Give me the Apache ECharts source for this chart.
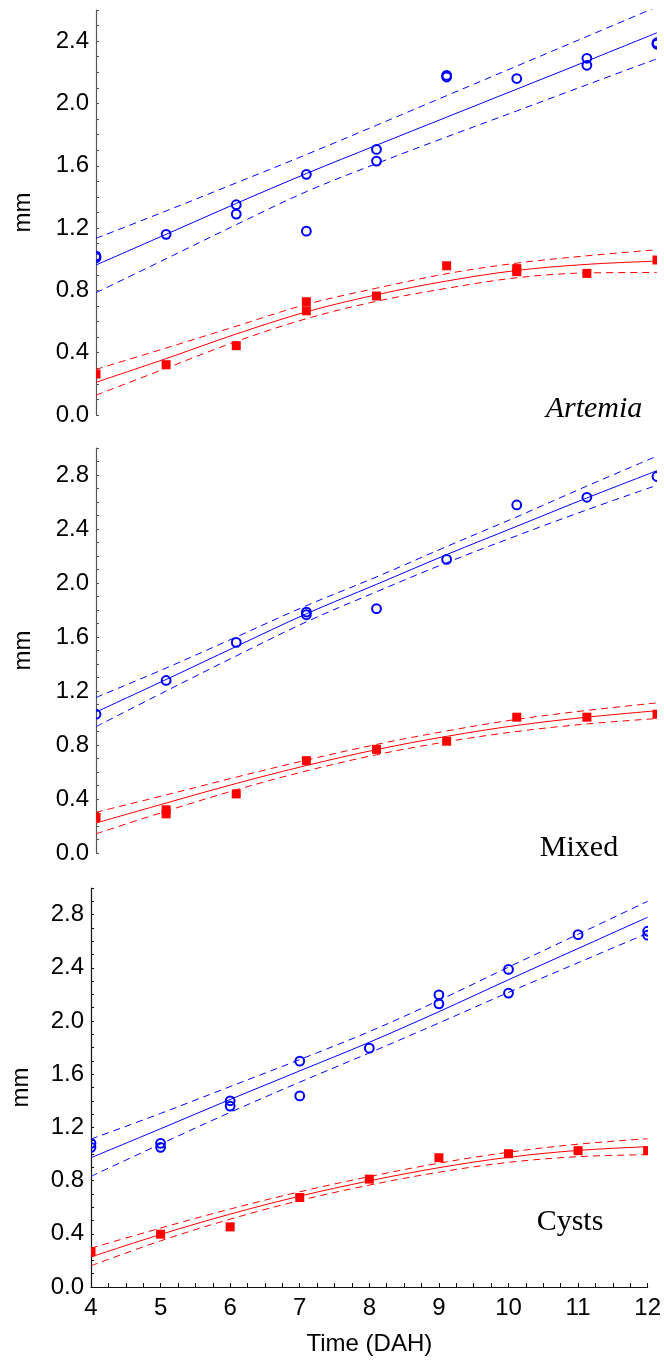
<!DOCTYPE html>
<html>
<head>
<meta charset="utf-8">
<script src="https://cdn.jsdelivr.net/npm/echarts@6/dist/echarts.min.js"></script>
<style>
  html, body { margin: 0; padding: 0; background: #fff; }
  #chart { width: 664px; height: 1361px; }
</style>
</head>
<body>
<div id="chart"></div>
<script>
// Sampling days (days after hatching)
const days = [4, 5, 6, 7, 8, 9, 10, 11, 12];

// Replicate measurements per day (mm): open circles = series A, filled squares = series B
const artemiaA = [[1.02, 1.01], [1.16], [1.35, 1.29], [1.545, 1.18], [1.705, 1.63], [2.18, 2.17], [2.16], [2.29, 2.245], [2.39, 2.38]];
const artemiaB = [[0.263], [0.323], [0.445], [0.727, 0.669], [0.764], [0.958], [0.94, 0.92], [0.909], [0.995]];
const mixedA = [[1.028], [1.278], [1.56], [1.785, 1.765], [1.81], [2.175], [2.578], [2.635], [2.789]];
const mixedB = [[0.263], [0.32, 0.29], [0.438], [0.684], [0.768], [0.828], [1.006], [1.006], [1.028]];
const cystsA = [[1.08, 1.05], [1.08, 1.05], [1.40, 1.36], [1.698, 1.437], [1.796], [2.197, 2.129], [2.388, 2.21], [2.649], [2.675, 2.645]];
const cystsB = [[0.264], [0.397], [0.452], [0.673], [0.811], [0.972], [1.002], [1.025], [1.025]];

// Fitted curves with their upper / lower confidence bands, one value per day
const artemiaAFit = [0.963, 1.16, 1.358, 1.55, 1.732, 1.912, 2.092, 2.272, 2.454];
const artemiaAHi  = [1.134, 1.31, 1.49, 1.672, 1.86, 2.05, 2.24, 2.43, 2.62];
const artemiaALo  = [0.785, 1.003, 1.222, 1.434, 1.614, 1.785, 1.952, 2.12, 2.287];
const artemiaBFit = [0.21, 0.362, 0.52, 0.662, 0.772, 0.86, 0.928, 0.967, 0.988];
const artemiaBHi  = [0.293, 0.43, 0.57, 0.71, 0.814, 0.907, 0.975, 1.022, 1.061];
const artemiaBLo  = [0.127, 0.3, 0.472, 0.618, 0.73, 0.813, 0.881, 0.912, 0.915];

const mixedAFit = [1.044, 1.285, 1.53, 1.772, 1.99, 2.21, 2.42, 2.63, 2.832];
const mixedAHi  = [1.152, 1.37, 1.60, 1.832, 2.045, 2.27, 2.49, 2.718, 2.94];
const mixedALo  = [0.936, 1.20, 1.46, 1.712, 1.935, 2.15, 2.35, 2.542, 2.724];
const mixedBFit = [0.222, 0.37, 0.515, 0.648, 0.766, 0.864, 0.945, 1.006, 1.054];
const mixedBHi  = [0.302, 0.43, 0.562, 0.688, 0.804, 0.904, 0.99, 1.056, 1.112];
const mixedBLo  = [0.142, 0.31, 0.468, 0.608, 0.728, 0.824, 0.90, 0.956, 0.996];

const cystsAFit = [0.972, 1.19, 1.41, 1.625, 1.84, 2.07, 2.31, 2.545, 2.78];
const cystsAHi  = [1.112, 1.305, 1.507, 1.71, 1.92, 2.155, 2.405, 2.652, 2.90];
const cystsALo  = [0.832, 1.075, 1.313, 1.54, 1.76, 1.985, 2.215, 2.438, 2.66];
const cystsBFit = [0.226, 0.395, 0.548, 0.683, 0.798, 0.897, 0.975, 1.027, 1.055];
const cystsBHi  = [0.292, 0.443, 0.586, 0.716, 0.83, 0.931, 1.013, 1.074, 1.115];
const cystsBLo  = [0.16, 0.347, 0.51, 0.65, 0.766, 0.863, 0.937, 0.98, 0.995];

// Axis settings
const xMin = 4, xMax = 12, xStep = 0.25;
const yMaxes = [2.6, 3.0, 3.0];
const yStep = 0.1, yLabelStep = 0.4;
const panelNames = ['Artemia', 'Mixed', 'Cysts'];
const xTitle = 'Time (DAH)';
const yTitle = 'mm';

const BLUE = '#0000ff';
const RED = '#ff0000';
const SANS = '"Liberation Sans", Arial, sans-serif';
const SERIF = '"Liberation Serif", "Times New Roman", serif';
const FS = 24;

const panels = [
  { a: artemiaA, b: artemiaB, aFit: artemiaAFit, aHi: artemiaAHi, aLo: artemiaALo, bFit: artemiaBFit, bHi: artemiaBHi, bLo: artemiaBLo },
  { a: mixedA, b: mixedB, aFit: mixedAFit, aHi: mixedAHi, aLo: mixedALo, bFit: mixedBFit, bHi: mixedBHi, bLo: mixedBLo },
  { a: cystsA, b: cystsB, aFit: cystsAFit, aHi: cystsAHi, aLo: cystsALo, bFit: cystsBFit, bHi: cystsBHi, bLo: cystsBLo }
];

// Plot rectangles of the three stacked panels
const grids = [
  { left: 96, right: 7, top: 10, height: 405 },
  { left: 96, right: 7, top: 448, height: 405 },
  { left: 91, right: 16, top: 888, height: 399 }
];

function isMultiple(v, step) {
  const q = v / step;
  return Math.abs(q - Math.round(q)) < 1e-6;
}

function points(perDay) {
  const out = [];
  perDay.forEach((vals, i) => vals.forEach(v => out.push([days[i], v])));
  return out;
}

function curve(vals) {
  return vals.map((v, i) => [days[i], v]);
}

const grid = [], xAxis = [], yAxis = [], series = [];

panels.forEach((p, k) => {
  const last = k === panels.length - 1;
  const axisColor = last ? '#111' : '#555';
  grid.push(grids[k]);

  xAxis.push({
    gridIndex: k, type: 'value', min: xMin, max: xMax, interval: xStep,
    show: last,
    name: last ? xTitle : '',
    nameLocation: 'middle', nameGap: 45,
    nameTextStyle: { fontFamily: SANS, fontSize: FS, color: '#000' },
    axisLine: { show: last, onZero: false, lineStyle: { color: axisColor, width: 1.2 } },
    axisTick: { show: last, inside: true, length: 4, lineStyle: { color: axisColor } },
    axisLabel: {
      show: last, margin: 9, fontFamily: SANS, fontSize: FS, color: '#000',
      formatter: v => (isMultiple(v, 1) ? String(Math.round(v)) : '')
    },
    splitLine: { show: false }
  });

  yAxis.push({
    gridIndex: k, type: 'value', min: 0, max: yMaxes[k], interval: yStep,
    name: yTitle, nameLocation: 'middle', nameGap: last ? 58 : 61,
    nameTextStyle: { fontFamily: SANS, fontSize: FS, color: '#000' },
    axisLine: { show: true, onZero: false, lineStyle: { color: axisColor, width: 1.2 } },
    axisTick: { show: true, inside: true, length: 3, lineStyle: { color: axisColor } },
    axisLabel: {
      margin: 7, fontFamily: SANS, fontSize: FS, color: '#000',
      formatter: v => (isMultiple(v, yLabelStep) ? v.toFixed(1) : '')
    },
    splitLine: { show: false }
  });

  const lineSeries = (vals, color, dashed) => ({
    type: 'line', xAxisIndex: k, yAxisIndex: k,
    data: curve(vals), showSymbol: false, smooth: 0.35,
    clip: true, silent: true, z: 2,
    lineStyle: { color: color, width: 1, type: dashed ? [7, 5] : 'solid' }
  });

  series.push(lineSeries(p.aFit, BLUE, false));
  series.push(lineSeries(p.aHi, BLUE, true));
  series.push(lineSeries(p.aLo, BLUE, true));
  series.push(lineSeries(p.bFit, RED, false));
  series.push(lineSeries(p.bHi, RED, true));
  series.push(lineSeries(p.bLo, RED, true));

  // Open circles
  series.push({
    type: 'custom', xAxisIndex: k, yAxisIndex: k, clip: true, z: 3,
    data: points(p.a),
    encode: { x: 0, y: 1 },
    renderItem: (params, api) => {
      const c = api.coord([api.value(0), api.value(1)]);
      return { type: 'circle', shape: { cx: c[0], cy: c[1], r: 4.4 },
               style: { fill: 'none', stroke: BLUE, lineWidth: 2 } };
    }
  });
  // Filled squares
  series.push({
    type: 'custom', xAxisIndex: k, yAxisIndex: k, clip: true, z: 3,
    data: points(p.b),
    encode: { x: 0, y: 1 },
    renderItem: (params, api) => {
      const c = api.coord([api.value(0), api.value(1)]);
      return { type: 'rect', shape: { x: c[0] - 4.5, y: c[1] - 4.5, width: 9, height: 9 },
               style: { fill: RED } };
    }
  });
});

// Panel captions
const captions = [
  { x: 594, y: 409, italic: true },
  { x: 579, y: 848, italic: false },
  { x: 570, y: 1222, italic: false }
];
const graphic = captions.map((c, k) => ({
  type: 'text', x: c.x, y: c.y, z: 10,
  style: {
    text: panelNames[k],
    font: (c.italic ? 'italic ' : '') + '30px ' + SERIF,
    fill: '#000', align: 'center', verticalAlign: 'middle'
  }
}));

const chart = echarts.init(document.getElementById('chart'), null, { renderer: 'canvas' });
chart.setOption({
  animation: false,
  backgroundColor: '#fff',
  grid: grid,
  xAxis: xAxis,
  yAxis: yAxis,
  series: series,
  graphic: graphic
});
</script>
</body>
</html>
